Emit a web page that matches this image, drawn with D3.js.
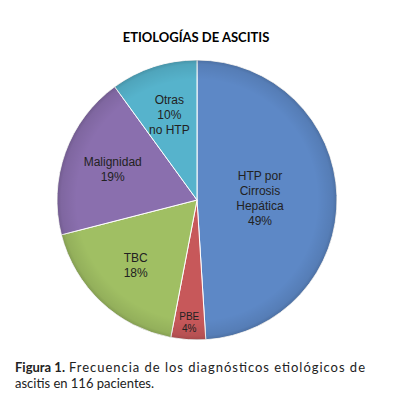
<!DOCTYPE html>
<html>
<head>
<meta charset="utf-8">
<script src="https://cdn.jsdelivr.net/npm/d3@7"></script>
<style>
  body { margin: 0; background: #fff; }
  svg { display: block; }
</style>
</head>
<body>
<svg id="chart"></svg>
<script>
// data
const categories = ["HTP por Cirrosis Hepática", "PBE", "TBC", "Malignidad", "Otras no HTP"];
const values = [49, 4, 18, 19, 10];
const labelLines = [
  ["HTP por", "Cirrosis", "Hepática", "49%"],
  ["PBE", "4%"],
  ["TBC", "18%"],
  ["Malignidad", "19%"],
  ["Otras", "10%", "no HTP"]
];
const colors = ["#5d88c6", "#c7585a", "#a0bf63", "#8a6fae", "#56b3cc"];

const width = 395, height = 403;
const cx = 197, cy = 200, radius = 140;
// label distance from centre as a share of the radius
const labelR = [0.45, 0.88, 0.64, 0.64, 0.64];

const svg = d3.select("#chart")
  .attr("width", width)
  .attr("height", height);

const defs = svg.append("defs");
const rim = defs.append("radialGradient").attr("id", "rim");
rim.append("stop").attr("offset", "0.86").attr("stop-color", "#000").attr("stop-opacity", 0);
rim.append("stop").attr("offset", "0.97").attr("stop-color", "#000").attr("stop-opacity", 0.08);
rim.append("stop").attr("offset", "1").attr("stop-color", "#000").attr("stop-opacity", 0.18);

svg.append("text")
  .attr("x", 196)
  .attr("y", 42)
  .attr("text-anchor", "middle")
  .style("font-family", "Lato, sans-serif")
  .style("font-weight", 700)
  .style("font-size", "13px")
  .attr("fill", "#000")
  .text("ETIOLOGÍAS DE ASCITIS");

const pie = d3.pie().sort(null).value(d => d);
const arcs = pie(values);
const arc = d3.arc().innerRadius(0).outerRadius(radius);

const g = svg.append("g").attr("transform", `translate(${cx},${cy})`);

g.selectAll("path.slice")
  .data(arcs)
  .join("path")
  .attr("class", "slice")
  .attr("d", arc)
  .attr("fill", (d, i) => colors[i])
  .attr("stroke", "#fff")
  .attr("stroke-width", 1);

g.append("circle")
  .attr("r", radius)
  .attr("fill", "url(#rim)");

arcs.forEach((d, i) => {
  const a = (d.startAngle + d.endAngle) / 2;
  const r = radius * labelR[i];
  const x = Math.sin(a) * r, y = -Math.cos(a) * r;
  const lines = labelLines[i];
  const fs = i === 1 ? 10 : 12;
  const lh = i === 1 ? 12 : 15;
  const t = g.append("text")
    .attr("text-anchor", "middle")
    .style("font-family", "'Liberation Sans', Arial, sans-serif")
    .style("font-size", fs + "px")
    .attr("fill", "#222");
  lines.forEach((s, k) => {
    t.append("tspan")
      .attr("x", x)
      .attr("y", y + (k - (lines.length - 1) / 2) * lh + fs * 0.35)
      .text(s);
  });
});

// caption
const capStyle = sel => sel
  .style("font-family", "Lato, sans-serif")
  .style("font-size", "13px")
  .attr("fill", "#222");

const fig = svg.append("text").call(capStyle)
  .attr("x", 15).attr("y", 372)
  .style("font-weight", 700)
  .text("Figura 1.");
const figW = fig.node().getComputedTextLength();
svg.append("text").call(capStyle)
  .attr("x", 15 + figW + 4).attr("y", 372)
  .attr("textLength", 365 - (15 + figW + 4))
  .attr("lengthAdjust", "spacing")
  .text("Frecuencia de los diagnósticos etiológicos de");
svg.append("text").call(capStyle)
  .attr("x", 15).attr("y", 388)
  .text("ascitis en 116 pacientes.");
</script>
</body>
</html>
